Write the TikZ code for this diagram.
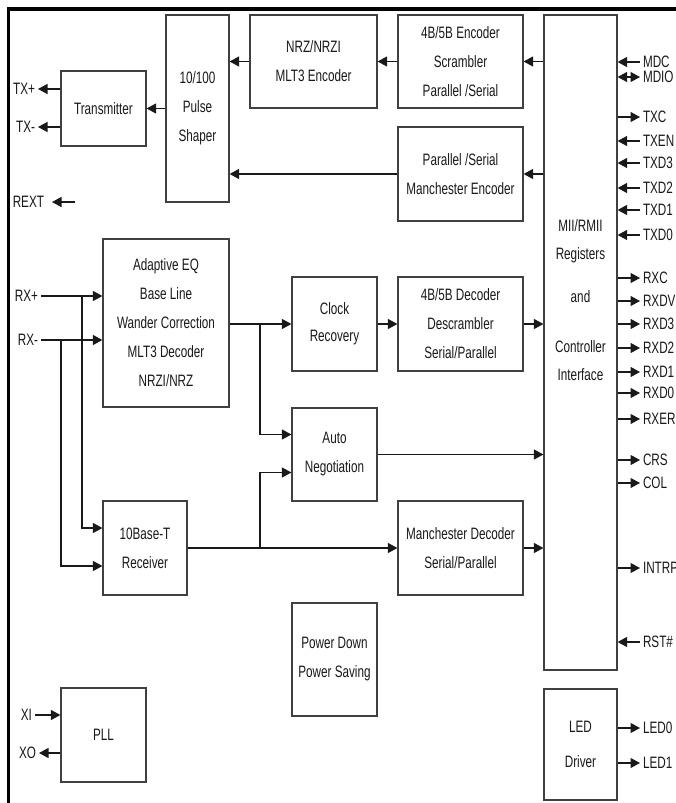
\documentclass[tikz,border=0pt]{standalone}
\usepackage{fontspec}
\setmainfont{Liberation Sans}[FakeStretch=0.71]
\usetikzlibrary{arrows.meta}
\tikzset{
  blk/.style={draw=black!75, inner sep=0pt, align=center},
  pinlbl/.style={inner sep=0pt, outer sep=3pt},
  arr/.style={-{Triangle[length=9.5pt,width=10pt]}},
  darr/.style={{Triangle[length=9.5pt,width=10pt]}-{Triangle[length=9.5pt,width=10pt]}},
}

\begin{document}
\begin{tikzpicture}[x=1pt, y=-1pt, line width=1.2pt, black!90, every node/.style={font=\fontsize{16.5}{29}\selectfont}]
        \useasboundingbox (0,0) rectangle (676,803);
        \draw[black, line width=3.5pt] (8.4,803) |- (676,9.2);
        % transmit side
        \node[blk, minimum width=63pt, minimum height=187pt] (shaper) at (197.5,108.5) {10/100\\Pulse\\Shaper};
        \node[blk, minimum width=85pt, minimum height=75pt] (trans) at (103.5,108.5) {Transmitter};
        \node[blk, minimum width=127pt, minimum height=93pt] (nrz) at (313.5,61.5) {NRZ/NRZI\\MLT3 Encoder};
        \node[blk, minimum width=125pt, minimum height=93pt] (enc) at (460.5,61.5) {4B/5B Encoder\\Scrambler\\Parallel /Serial};
        \node[blk, minimum width=125pt, minimum height=94pt] (manenc) at (460.5,174) {Parallel /Serial\\Manchester Encoder};
        \node[blk, minimum width=73pt, minimum height=655pt] (mii) at (580.5,342.5) {};
        \node[align=center, font=\fontsize{16.5}{28}\selectfont] (miitxt) at (580.5,300) {MII/RMII\\Registers\\[15pt]and\\[22pt]Controller\\Interface};
        \node[blk, minimum width=73pt, minimum height=111pt] (led) at (580.5,744.5) {LED\\[6pt]Driver};
        % receive side
        \node[blk, minimum width=126pt, minimum height=168pt] (eq) at (166,323) {Adaptive EQ\\Base Line\\Wander Correction\\MLT3 Decoder\\NRZI/NRZ};
        \node[blk, minimum width=85pt, minimum height=94pt] (clk) at (334.5,324) {Clock\\[-2pt]Recovery};
        \node[blk, minimum width=125pt, minimum height=94pt] (dec) at (460.5,324) {4B/5B Decoder\\Descrambler\\Serial/Parallel};
        \node[blk, minimum width=85pt, minimum height=93pt] (aneg) at (334.5,454.5) {Auto\\Negotiation};
        \node[blk, minimum width=84pt, minimum height=94pt] (rx10) at (145,548) {10Base-T\\Receiver};
        \node[blk, minimum width=125pt, minimum height=94pt] (mandec) at (460.5,548) {Manchester Decoder\\Serial/Parallel};
        \node[blk, minimum width=85pt, minimum height=113pt] (pwr) at (334.5,659.5) {Power Down\\Power Saving};
        \node[blk, minimum width=85pt, minimum height=94pt] (pll) at (103.5,735) {PLL};
        % left pins
        \node[pinlbl, anchor=east] (txp) at (38,89) {TX+};
        \node[pinlbl, anchor=east] (txm) at (38,127) {TX-};
        \node[pinlbl, anchor=east, outer xsep=8pt] (rext) at (52,202) {REXT};
        \node[pinlbl, anchor=east] (rxp) at (41,296) {RX+};
        \node[pinlbl, anchor=east] (rxm) at (41,340) {RX-};
        \node[pinlbl, anchor=east] (xi) at (35,715) {XI};
        \node[pinlbl, anchor=east] (xo) at (39,753) {XO};
        \coordinate (rexto) at (75,202);
        \coordinate (jp) at (82,296);
        \coordinate (jm) at (61,340);
        \coordinate (jc) at (260,324);
        \coordinate (jr) at (260,548);

        \draw[arr] (nrz.west) -- (nrz.west -| shaper.east);
        \draw[arr] (enc.west) -- (nrz.east);
        \draw[arr] (mii.west |- enc) -- (enc.east);
        \draw[arr] (mii.west |- manenc) -- (manenc.east);
        \draw[arr] (manenc.west) -- (manenc.west -| shaper.east);
        \draw[arr] (shaper.west |- trans) -- (trans.east);
        \draw[arr] (trans.west |- txp) -- (txp.east);
        \draw[arr] (trans.west |- txm) -- (txm.east);
        \draw[arr] (rexto) -- (rext.east);

        \draw[arr] (rxp.east) -- (rxp.east -| eq.west);
        \draw[arr] (rxm.east) -- (rxm.east -| eq.west);
        \draw[arr] (jp) |- ([yshift=20pt]rx10.west);
        \draw[arr] (jm) |- ([yshift=-18pt]rx10.west);
        \draw[arr] (eq.east |- clk) -- (clk.west);
        \draw[arr] (jc) |- ([yshift=20pt]aneg.west);
        \draw[arr] (rx10.east) -- (mandec.west);
        \draw[arr] (jr) |- ([yshift=-18pt]aneg.west);
        \draw[arr] (clk.east) -- (dec.west);
        \draw[arr] (dec.east) -- (dec.east -| mii.west);
        \draw[arr] (aneg.east) -- (aneg.east -| mii.west);
        \draw[arr] (mandec.east) -- (mandec.east -| mii.west);
        \draw[arr] (xi.east) -- (xi.east -| pll.west);
        \draw[arr] (xo.east -| pll.west) -- (xo.east);
        % right pins
        \foreach \p/\y in {MDC/62, TXEN/141, TXD3/163, TXD2/188, TXD1/210, TXD0/235} {
          \node[pinlbl, anchor=west] (\p) at (640,\y) {\p};
          \draw[arr] (\p.west) -- (\p.west -| mii.east);
        }
        \foreach \p/\y in {TXC/117, RXC/278, RXDV/301, RXD3/324, RXD2/348, RXD1/372, RXD0/393, RXER/419, CRS/460, COL/483, INTRP/568} {
          \node[pinlbl, anchor=west] (\p) at (640,\y) {\p};
          \draw[arr] (\p.west -| mii.east) -- (\p.west);
        }
        \node[pinlbl, anchor=west] (mdio) at (640,77) {MDIO};
        \draw[darr] (mdio.west -| mii.east) -- (mdio.west);
        \node[pinlbl, anchor=west] (rst) at (640,642) {RST\#};
        \draw[arr] (rst.west) -- (rst.west -| mii.east);
        \foreach \p/\y in {LED0/728, LED1/763} {
          \node[pinlbl, anchor=west] (\p) at (640,\y) {\p};
          \draw[arr] (\p.west -| led.east) -- (\p.west);
        }
    \end{tikzpicture}
\end{document}
